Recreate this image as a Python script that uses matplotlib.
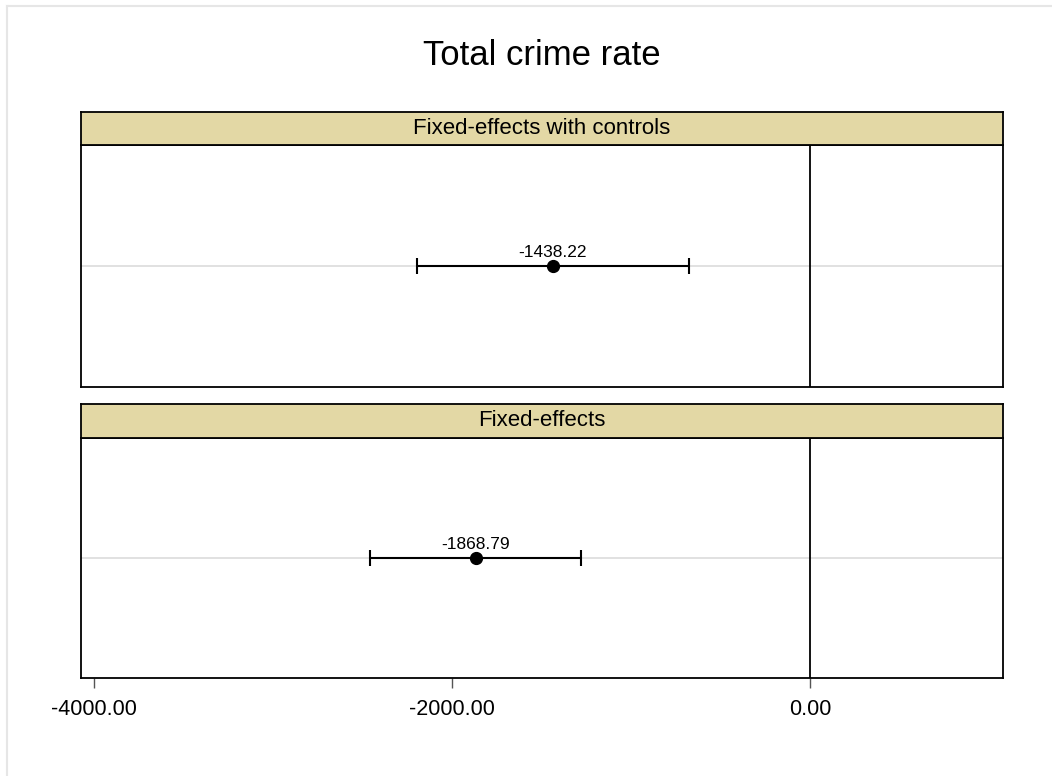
import matplotlib
matplotlib.use("Agg")
import matplotlib.pyplot as plt
from matplotlib.lines import Line2D

plt.rcParams["font.family"] = ["Liberation Sans", "DejaVu Sans"]

# estimates
panels = ["Fixed-effects with controls", "Fixed-effects"]
coef = [-1438.22, -1868.79]
ci_low = [-2198, -2461]
ci_high = [-678, -1277]
xticks = [-4000, -2000, 0]
xticklabels = ["-4000.00", "-2000.00", "0.00"]

W, H = 1052, 776
fig = plt.figure(figsize=(W / 100, H / 100), dpi=100)

# light grey outer frame (graph region)
fig.add_artist(Line2D([7 / W, 7 / W], [0, 1 - 6 / H], color="#e6e6e6", lw=1.5))
fig.add_artist(Line2D([7 / W, 1], [1 - 6 / H, 1 - 6 / H], color="#e6e6e6", lw=1.5))

left, right = 81, 1003
fig.text((left + right) / 2 / W, 1 - 65 / H, "Total crime rate", ha="center",
         va="baseline", fontsize=25)

# (strip top, plot top, plot bottom) in pixels
boxes = [(112, 145, 387), (404, 438, 678)]
strip_col = "#e3d8a5"

for i, (stop, ptop, pbot) in enumerate(boxes):
    ax = fig.add_axes([left / W, 1 - pbot / H, (right - left) / W, (pbot - ptop) / H])
    ax.set_xlim(-4073, 1078)
    ax.set_ylim(0, 2)
    ax.axhline(1, color="#dcdcdc", lw=1.2, zorder=0)
    ax.axvline(0, color="black", lw=1.3, zorder=1)
    ax.errorbar([coef[i]], [1], xerr=[[coef[i] - ci_low[i]], [ci_high[i] - coef[i]]],
                fmt="o", color="black", ms=8.5, lw=1.5, capsize=6, capthick=1.5, zorder=3)
    ax.annotate("%.2f" % coef[i], (coef[i], 1), xytext=(0, 6.5), textcoords="offset points",
                ha="center", va="baseline", fontsize=12.5)
    ax.set_yticks([])
    for s in ax.spines.values():
        s.set_linewidth(1.3)
    if i == len(boxes) - 1:
        ax.set_xticks(xticks)
        ax.set_xticklabels(xticklabels, fontsize=15.5)
        ax.tick_params(axis="x", length=7, width=1, color="#555555", pad=8)
    else:
        ax.set_xticks([])

    sax = fig.add_axes([left / W, 1 - ptop / H, (right - left) / W, (ptop - stop) / H])
    sax.set_facecolor(strip_col)
    sax.set_xticks([])
    sax.set_yticks([])
    for s in sax.spines.values():
        s.set_linewidth(1.3)
    sax.text(0.5, 0.5, panels[i], ha="center", va="center", fontsize=16,
             transform=sax.transAxes)

fig.savefig("out.png", dpi=100)
